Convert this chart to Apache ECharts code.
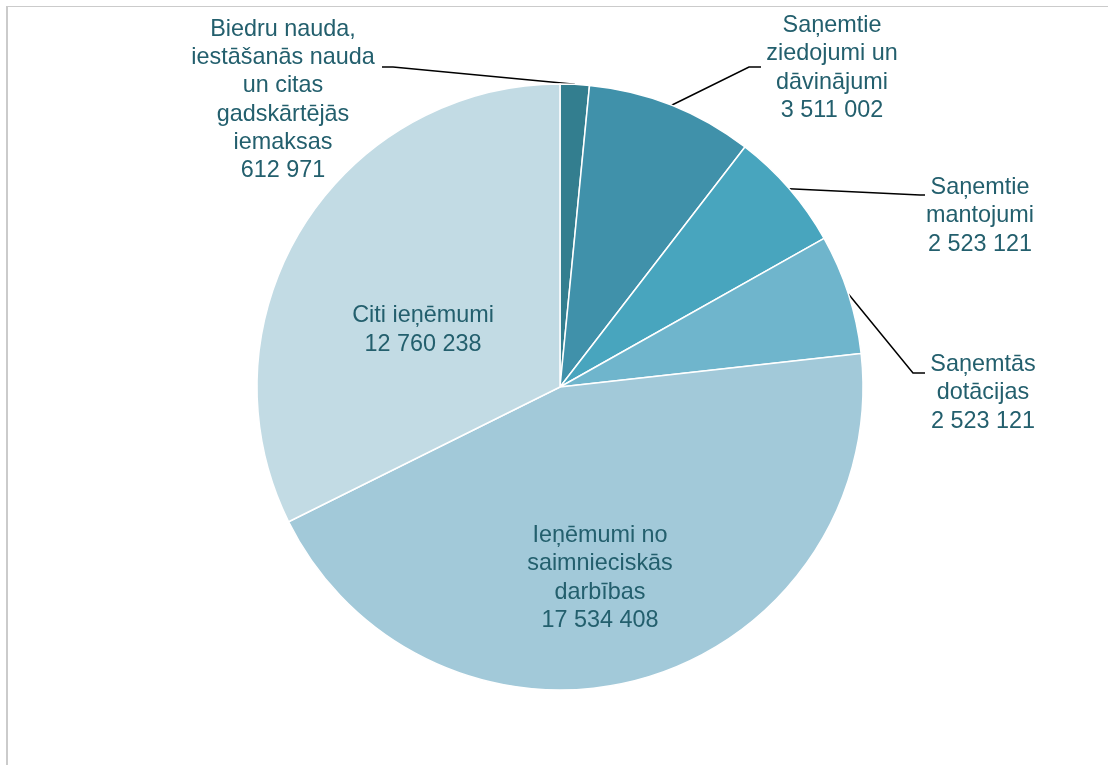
<!DOCTYPE html>
<html>
<head>
<meta charset="utf-8">
<script src="https://cdn.jsdelivr.net/npm/echarts@6/dist/echarts.min.js"></script>
<style>
  html, body { margin: 0; padding: 0; background: #fff; }
  #frame { position: absolute; left: 6px; top: 6px; width: 1200px; height: 900px;
           border-left: 2px solid #cbcbcb; border-top: 1.5px solid #cbcbcb; }
  #chart { position: absolute; left: 0; top: 0; width: 1108px; height: 765px; }
</style>
</head>
<body>
<div id="frame"></div>
<div id="chart"></div>
<script>
// dati
var names = [
  'Biedru nauda,\niestāšanās nauda\nun citas\ngadskārtējās\niemaksas',
  'Saņemtie\nziedojumi un\ndāvinājumi',
  'Saņemtie\nmantojumi',
  'Saņemtās\ndotācijas',
  'Ieņēmumi no\nsaimnieciskās\ndarbības',
  'Citi ieņēmumi'
];
var values = [612971, 3511002, 2523121, 2523121, 17534408, 12760238];
var colors = ['#337E8F', '#4091AA', '#48A5BE', '#6FB5CC', '#A2C9D9', '#C2DBE4'];
var outside = [true, true, true, true, false, false];

// izkārtojums (etiķešu vietas)
var cx = 560, cy = 387, radius = 303;
var labelPos = [[283, 100], [832, 68], [980, 216], [983, 393], [600, 578], [423, 330]];
var bendPos = [[[393, 67], [382, 67]], [[749, 67], [761, 67]], [[920, 195], [925, 195]], [[913, 373], [925, 373]]];

function fmt(v) {
  return String(v).replace(/\B(?=(\d{3})+(?!\d))/g, ' ');
}

var total = values.reduce(function (a, b) { return a + b; }, 0);
// viduspunkta leņķis katram sektoram (pulksteņrādītāja virzienā no augšas)
var midAngles = [];
var acc = 0;
for (var i = 0; i < values.length; i++) {
  midAngles.push((acc + values[i] / 2) / total * Math.PI * 2);
  acc += values[i];
}

var data = names.map(function (n, i) {
  return {
    name: n,
    value: values[i],
    itemStyle: { color: colors[i] },
    label: { position: outside[i] ? 'outside' : 'inside' },
    labelLine: { show: outside[i] }
  };
});

var myChart = echarts.init(document.getElementById('chart'));
var option = {
  animation: false,
  series: [{
    type: 'pie',
    center: [cx, cy],
    radius: radius,
    startAngle: 90,
    clockwise: true,
    avoidLabelOverlap: false,
    data: data,
    itemStyle: { borderColor: '#fff', borderWidth: 1.5 },
    label: {
      formatter: function (p) { return p.name + '\n' + fmt(p.value); },
      fontFamily: 'Liberation Sans, Arial, sans-serif',
      fontSize: 23.4,
      lineHeight: 28.3,
      color: '#235F6D'
    },
    labelLine: {
      show: true,
      lineStyle: { color: '#000', width: 1.5 }
    },
    emphasis: { disabled: true },
    labelLayout: function (params) {
      var i = params.dataIndex;
      var res = {
        x: labelPos[i][0],
        y: labelPos[i][1],
        align: 'center',
        verticalAlign: 'middle',
        hideOverlap: false
      };
      if (outside[i]) {
        var a = midAngles[i];
        var start = [cx + radius * Math.sin(a), cy - radius * Math.cos(a)];
        res.labelLinePoints = [start, bendPos[i][0], bendPos[i][1]];
      }
      return res;
    }
  }]
};
myChart.setOption(option);
</script>
</body>
</html>
